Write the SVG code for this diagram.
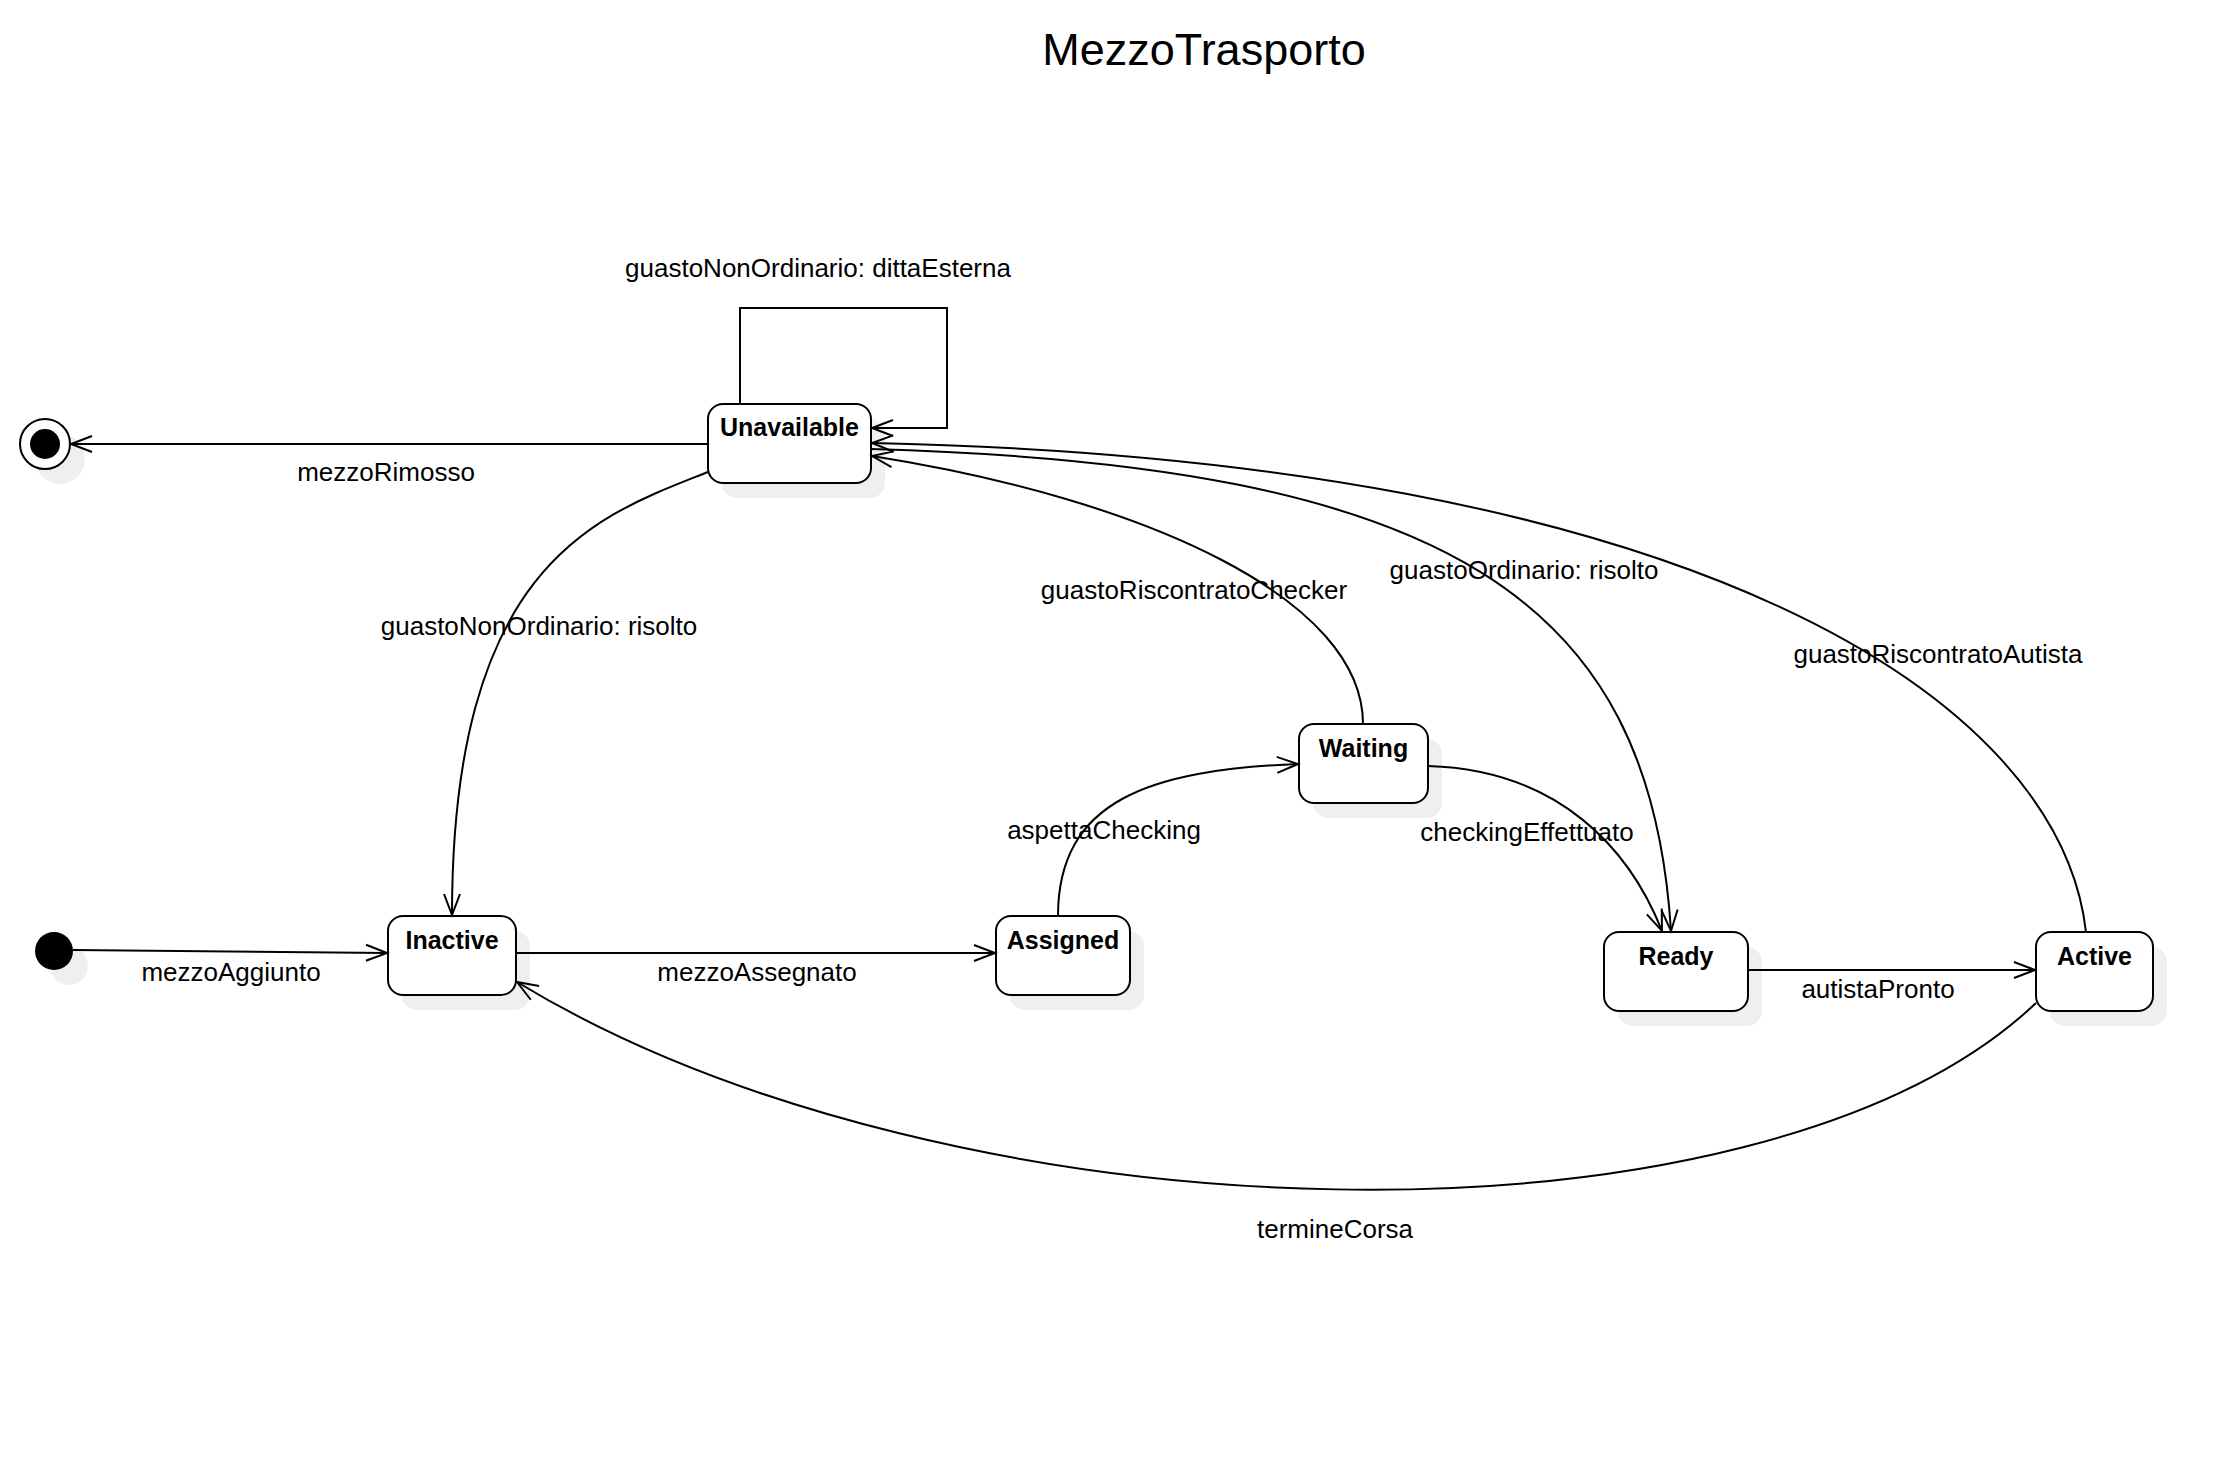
<svg xmlns="http://www.w3.org/2000/svg" width="2234" height="1462" viewBox="0 0 2234 1462">
<style>
  .shadow { fill: #efefef; stroke: none; }
  .state { fill: #ffffff; stroke: #000000; stroke-width: 2; }
  .name { font-family: "Liberation Sans", Arial, sans-serif; font-weight: bold; font-size: 25px; text-anchor: middle; fill: #000; }
  .lbl { font-family: "Liberation Sans", Arial, sans-serif; font-size: 26px; text-anchor: middle; fill: #000; }
  .title { font-family: "Liberation Sans", Arial, sans-serif; font-size: 45px; text-anchor: middle; fill: #000; }
  .edge { fill: none; stroke: #000; stroke-width: 2; }
  .arr { marker-end: url(#open); }
</style>
<defs>
  <marker id="open" markerUnits="userSpaceOnUse" markerWidth="30" markerHeight="30" refX="0" refY="0" orient="auto" overflow="visible">
    <path d="M -21 -8 L 0 0 L -21 8" fill="none" stroke="#000" stroke-width="2"/>
  </marker>
</defs>
<rect width="2234" height="1462" fill="#ffffff"/>
<text class="title" x="1204" y="65">MezzoTrasporto</text>

<g id="final">
  <circle class="shadow" cx="60" cy="459" r="25"/>
  <circle cx="45" cy="444" r="25" fill="#fff" stroke="#000" stroke-width="2"/>
  <circle cx="45" cy="444" r="15" fill="#000"/>
</g>
<g id="initial">
  <circle class="shadow" cx="69" cy="966" r="19"/>
  <circle cx="54" cy="951" r="19" fill="#000"/>
</g>

<g id="Unavailable">
  <rect class="shadow" x="722" y="419" width="163" height="79" rx="15"/>
  <rect class="state" x="708" y="404" width="163" height="79" rx="15"/>
  <text class="name" x="789.5" y="436">Unavailable</text>
</g>
<g id="Inactive">
  <rect class="shadow" x="402" y="931" width="128" height="79" rx="15"/>
  <rect class="state" x="388" y="916" width="128" height="79" rx="15"/>
  <text class="name" x="452" y="949">Inactive</text>
</g>
<g id="Assigned">
  <rect class="shadow" x="1010" y="931" width="134" height="79" rx="15"/>
  <rect class="state" x="996" y="916" width="134" height="79" rx="15"/>
  <text class="name" x="1063" y="949">Assigned</text>
</g>
<g id="Waiting">
  <rect class="shadow" x="1313" y="739" width="129" height="79" rx="15"/>
  <rect class="state" x="1299" y="724" width="129" height="79" rx="15"/>
  <text class="name" x="1363.5" y="757">Waiting</text>
</g>
<g id="Ready">
  <rect class="shadow" x="1618" y="947" width="144" height="79" rx="15"/>
  <rect class="state" x="1604" y="932" width="144" height="79" rx="15"/>
  <text class="name" x="1676" y="965">Ready</text>
</g>
<g id="Active">
  <rect class="shadow" x="2050" y="947" width="117" height="79" rx="15"/>
  <rect class="state" x="2036" y="932" width="117" height="79" rx="15"/>
  <text class="name" x="2094.5" y="965">Active</text>
</g>

<g id="connectors">
  <path class="edge arr" d="M 708 444 L 71 444"/>
  <path class="edge arr" d="M 740 404 V 308 H 947 V 428 H 872"/>
  <path class="edge arr" d="M 708 472 C 600 515, 452 560, 452 915"/>
  <path class="edge arr" d="M 73 950 L 387 953"/>
  <path class="edge arr" d="M 516 953 L 995 953"/>
  <path class="edge arr" d="M 1058 916 C 1058 800, 1150 770, 1298 764"/>
  <path class="edge arr" d="M 1428 766 C 1560 770, 1630 850, 1662 931"/>
  <path class="edge arr" d="M 871 449 C 1450 465, 1650 600, 1671 931"/>
  <path class="edge arr" d="M 1363 724 C 1363 600, 1150 500, 872 456"/>
  <path class="edge arr" d="M 2086 932 C 2060 700, 1700 460, 872 443"/>
  <path class="edge arr" d="M 1748 970 L 2035 970"/>
  <path class="edge arr" d="M 2036 1003 C 1760 1265, 950 1245, 517 982"/>
</g>

<g id="labels">
  <text class="lbl" x="818" y="277">guastoNonOrdinario: dittaEsterna</text>
  <text class="lbl" x="386" y="481">mezzoRimosso</text>
  <text class="lbl" x="539" y="635">guastoNonOrdinario: risolto</text>
  <text class="lbl" x="1194" y="599">guastoRiscontratoChecker</text>
  <text class="lbl" x="1524" y="579">guastoOrdinario: risolto</text>
  <text class="lbl" x="1938" y="663">guastoRiscontratoAutista</text>
  <text class="lbl" x="1104" y="839">aspettaChecking</text>
  <text class="lbl" x="1527" y="841">checkingEffettuato</text>
  <text class="lbl" x="231" y="981">mezzoAggiunto</text>
  <text class="lbl" x="757" y="981">mezzoAssegnato</text>
  <text class="lbl" x="1878" y="998">autistaPronto</text>
  <text class="lbl" x="1335" y="1238">termineCorsa</text>
</g>
</svg>
